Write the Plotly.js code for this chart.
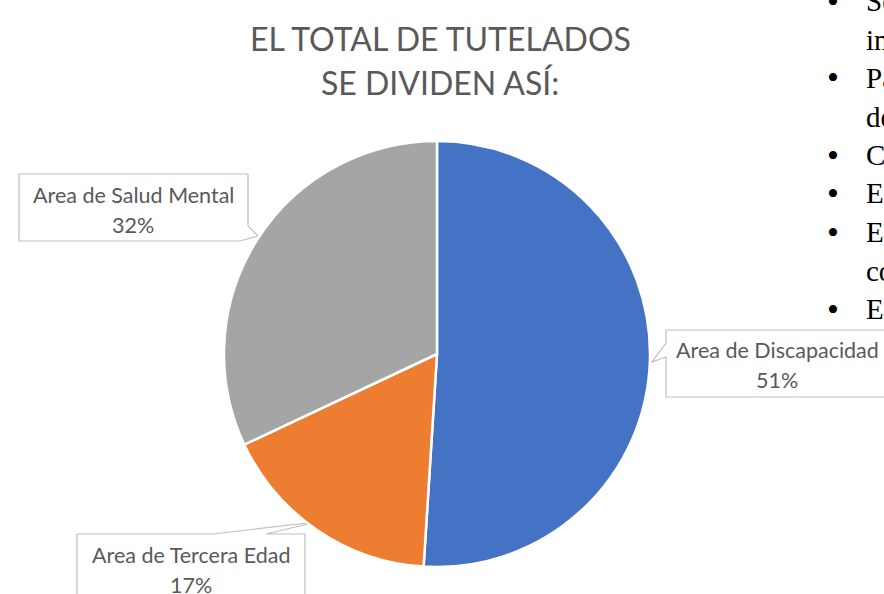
<!DOCTYPE html>
<html><head><meta charset="utf-8">
<script src="https://cdn.plot.ly/plotly-3.0.1.min.js"></script>
<style>html,body{margin:0;padding:0;background:#fff}#c{width:884px;height:594px}</style>
</head><body><div id="c"></div>
<script>
const categories = ["Area de Discapacidad", "Area de Tercera Edad", "Area de Salud Mental"];
const values = [51, 17, 32];
const colors = ["#4472C4", "#ED7D31", "#A5A5A5"];
const titleLines = ["EL TOTAL DE TUTELADOS", "SE DIVIDEN ASÍ:"];
const sideText = ["Se", "in", "Pa", "de", "Co", "Ex", "Es", "co", "En"];
const sideBullets = [true, false, true, false, true, true, true, false, true];

const W = 884, H = 594;
const px = x => x / W, py = y => 1 - y / H;
const total = values.reduce((a, b) => a + b, 0);
const pct = v => Math.round(v / total * 100) + "%";

const F = "Lato, 'Open Sans', sans-serif";
const annotations = [];
const titleY = [38, 82];
titleLines.forEach((t, i) => annotations.push({xref: "paper", yref: "paper", x: px(440), y: py(titleY[i]), xanchor: "center", yanchor: "middle", text: t, showarrow: false, font: {family: F, size: 32, color: "#595959"}}));
const labelPos = [[777, 350], [191, 555], [133, 195]];
categories.forEach((c, i) => {
  annotations.push({xref: "paper", yref: "paper", x: px(labelPos[i][0]), y: py(labelPos[i][1]), xanchor: "center", yanchor: "middle", text: c, showarrow: false, font: {family: F, size: 21.5, color: "#595959"}});
  annotations.push({xref: "paper", yref: "paper", x: px(labelPos[i][0]), y: py(labelPos[i][1] + 30), xanchor: "center", yanchor: "middle", text: pct(values[i]), showarrow: false, font: {family: F, size: 21.5, color: "#595959"}});
});
sideText.forEach((t, i) => {
  const y = 1 + i * 38.5;
  annotations.push({xref: "paper", yref: "paper", x: px(864), y: py(y), xanchor: "left", yanchor: "middle", text: t, showarrow: false, font: {family: "'Liberation Serif', serif", size: 29, color: "#000"}});
  if (sideBullets[i]) annotations.push({xref: "paper", yref: "paper", x: px(833), y: py(y), xanchor: "center", yanchor: "middle", text: "•", showarrow: false, font: {family: "'Liberation Serif', serif", size: 34, color: "#000"}});
});

const toPath = pts => pts.map((p, i) => (i ? "L" : "M") + px(p[0]) + "," + py(p[1])).join(" ") + " Z";
const boxStyle = {type: "path", xref: "paper", yref: "paper", fillcolor: "#FFFFFF", line: {color: "#BFBFBF", width: 1.2}, layer: "below"};
const shapes = [
  Object.assign({path: toPath([[19,174],[248,174],[248,226],[258,236],[240,241],[19,241]])}, boxStyle),
  Object.assign({path: toPath([[666,330],[900,330],[900,397],[666,397],[666,357],[652,362],[666,343]])}, boxStyle),
  Object.assign({path: toPath([[77,534],[213,534],[316,522],[266,534],[305,534],[305,620],[77,620]])}, boxStyle)
];

const trace = {
  type: "pie", labels: categories, values: values, sort: false, direction: "clockwise", rotation: 0,
  marker: {colors: colors, line: {color: "#FFFFFF", width: 2.5}},
  textinfo: "none", hoverinfo: "label+percent", showlegend: false,
  domain: {x: [px(224), px(650)], y: [py(567), py(141)]}
};
Plotly.newPlot("c", [trace], {
  width: W, height: H, margin: {l: 0, r: 0, t: 0, b: 0},
  paper_bgcolor: "#FFFFFF", showlegend: false, annotations: annotations, shapes: shapes
}, {displayModeBar: false, staticPlot: true});
</script></body></html>
